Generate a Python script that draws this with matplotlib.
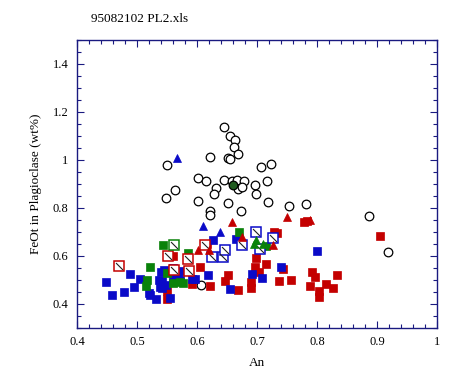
import matplotlib
matplotlib.use("Agg")
import matplotlib.pyplot as plt
from matplotlib.path import Path
from matplotlib.ticker import MultipleLocator
import numpy as np

plt.rcParams['font.family'] = ['Liberation Serif', 'DejaVu Serif']

title = "95082102 PL2.xls"
xlabel = "An"
ylabel = "FeOt in Plagioclase (wt%)"

# open circles
circ_x = [0.6455, 0.6555, 0.6638, 0.6622, 0.6688, 0.6222, 0.6517, 0.6555, 0.5505, 0.7072,
          0.7238, 0.6022, 0.6158, 0.6455, 0.6588, 0.6675, 0.6783, 0.6312, 0.6288, 0.5638,
          0.5488, 0.6022, 0.6522, 0.6738, 0.6212, 0.6225, 0.6972, 0.6988, 0.7172, 0.7188,
          0.6688, 0.6755, 0.7538, 0.7817, 0.8862, 0.9188, 0.6067]
circ_y = [1.136, 1.100, 1.082, 1.054, 1.025, 1.011, 1.007, 1.003, 0.978, 0.970,
          0.982, 0.926, 0.9125, 0.915, 0.9125, 0.915, 0.9125, 0.882, 0.860, 0.874,
          0.842, 0.828, 0.820, 0.7875, 0.788, 0.770, 0.8946, 0.857, 0.911, 0.824,
          0.879, 0.886, 0.807, 0.815, 0.765, 0.618, 0.480]

gcirc_x = [0.6592]
gcirc_y = [0.896]

red_sq_x = [0.5595, 0.5495, 0.5505, 0.5922, 0.6053, 0.6222, 0.6167, 0.652, 0.6472, 0.6688,
            0.6983, 0.697, 0.7142, 0.7037, 0.6892, 0.6905, 0.7288, 0.7338, 0.7438, 0.7372,
            0.7567, 0.7788, 0.7838, 0.7922, 0.7972, 0.7888, 0.8038, 0.8038, 0.8155, 0.8272,
            0.8338, 0.9055]
red_sq_y = [0.602, 0.421, 0.453, 0.482, 0.553, 0.474, 0.652, 0.520, 0.495, 0.4575,
            0.590, 0.555, 0.565, 0.532, 0.490, 0.467, 0.701, 0.695, 0.545, 0.495,
            0.499, 0.740, 0.745, 0.532, 0.511, 0.474, 0.455, 0.429, 0.483, 0.465,
            0.520, 0.682]

blue_sq_x = [0.4488, 0.4588, 0.4788, 0.4888, 0.4958, 0.5055, 0.5192, 0.5225, 0.5325, 0.5395,
             0.5412, 0.5383, 0.555, 0.5667, 0.5445, 0.5595, 0.5762, 0.5372, 0.5483, 0.5595,
             0.5678, 0.5412, 0.5717, 0.5922, 0.5967, 0.6187, 0.6272, 0.6653, 0.6558, 0.692,
             0.7087, 0.7405, 0.8005]
blue_sq_y = [0.492, 0.436, 0.449, 0.524, 0.470, 0.503, 0.445, 0.4375, 0.420, 0.535,
             0.496, 0.472, 0.426, 0.505, 0.543, 0.549, 0.539, 0.500, 0.479, 0.507,
             0.507, 0.465, 0.500, 0.504, 0.503, 0.520, 0.665, 0.671, 0.462, 0.524,
             0.507, 0.553, 0.620]

green_sq_x = [0.5438, 0.585, 0.6692, 0.5222, 0.5167, 0.515, 0.5492, 0.5595, 0.5717, 0.5772, 0.7155]
green_sq_y = [0.645, 0.6125, 0.702, 0.553, 0.501, 0.476, 0.528, 0.488, 0.493, 0.4875, 0.640]

red_h_x = [0.4692, 0.552, 0.562, 0.5853, 0.5875, 0.6133]
red_h_y = [0.557, 0.599, 0.540, 0.587, 0.5375, 0.646]

blue_h_x = [0.625, 0.6437, 0.6475, 0.6753, 0.6987, 0.7053, 0.7272]
blue_h_y = [0.5946, 0.595, 0.627, 0.645, 0.698, 0.628, 0.675]

green_h_x = [0.5622]
green_h_y = [0.644]

red_tri_x = [0.6588, 0.6017, 0.6208, 0.6755, 0.7505, 0.7888, 0.7262]
red_tri_y = [0.743, 0.627, 0.627, 0.681, 0.761, 0.750, 0.646]

blue_tri_x = [0.5672, 0.6105, 0.6388]
blue_tri_y = [1.010, 0.726, 0.699]

green_tri_x = [0.6942, 0.6988, 0.71]
green_tri_y = [0.648, 0.668, 0.65]

RED = '#c40000'
BLUE = '#0a0ac8'
GREEN = '#0a820a'
NAVY = '#1a1a80'

fig = plt.figure(figsize=(4.55, 3.78), dpi=100)
ax = fig.add_axes([0.1692, 0.1323, 0.7912, 0.7619])

diag = Path([(-1, 1), (1, -1)], [Path.MOVETO, Path.LINETO])

ms = 6.3
ax.plot(circ_x, circ_y, 'o', ms=6.2, mfc='white', mec='black', mew=0.9, ls='none')
ax.plot(red_sq_x, red_sq_y, 's', ms=ms, mfc=RED, mec=RED, mew=0.5, ls='none')
ax.plot(blue_sq_x, blue_sq_y, 's', ms=ms, mfc=BLUE, mec=BLUE, mew=0.5, ls='none')
ax.plot(green_sq_x, green_sq_y, 's', ms=ms, mfc=GREEN, mec=GREEN, mew=0.5, ls='none')
for hx, hy, c in [(red_h_x, red_h_y, RED), (blue_h_x, blue_h_y, BLUE), (green_h_x, green_h_y, GREEN)]:
    ax.plot(hx, hy, 's', ms=7.0, mfc='white', mec=c, mew=1.1, ls='none')
    ax.plot(hx, hy, marker=diag, ms=5.0, mec='#202020', mew=0.8, ls='none')
ax.plot(red_tri_x, red_tri_y, '^', ms=6.0, mfc=RED, mec=RED, mew=0.5, ls='none')
ax.plot(blue_tri_x, blue_tri_y, '^', ms=6.0, mfc=BLUE, mec=BLUE, mew=0.5, ls='none')
ax.plot(green_tri_x, green_tri_y, '^', ms=6.0, mfc=GREEN, mec=GREEN, mew=0.5, ls='none')
ax.plot(gcirc_x, gcirc_y, 'o', ms=6.2, mfc='#1f5a1f', mec='black', mew=0.9, ls='none')

ax.set_xlim(0.4, 1.0)
ax.set_ylim(0.3, 1.5)
ax.xaxis.set_major_locator(MultipleLocator(0.1))
ax.xaxis.set_minor_locator(MultipleLocator(0.02))
ax.yaxis.set_major_locator(MultipleLocator(0.2))
ax.yaxis.set_minor_locator(MultipleLocator(0.05))
ax.set_xticks([0.4, 0.5, 0.6, 0.7, 0.8, 0.9, 1.0])
ax.set_xticklabels(['0.4', '0.5', '0.6', '0.7', '0.8', '0.9', '1'])
ax.set_yticks([0.4, 0.6, 0.8, 1.0, 1.2, 1.4])
ax.set_yticklabels(['0.4', '0.6', '0.8', '1', '1.2', '1.4'])

for s in ax.spines.values():
    s.set_color(NAVY)
    s.set_linewidth(1.0)
ax.tick_params(which='both', direction='in', top=True, right=True, color=NAVY,
               labelsize=9, labelcolor='black', width=0.8)
ax.tick_params(which='major', length=5, pad=6)
ax.tick_params(which='minor', length=3)

ax.set_xlabel(xlabel, fontsize=9.5, labelpad=6)
ax.set_ylabel(ylabel, fontsize=9.5, labelpad=8)
fig.text(91 / 455, 1 - 19 / 378, title, fontsize=9.5, ha='left', va='center')

fig.savefig('out.png', dpi=100)
